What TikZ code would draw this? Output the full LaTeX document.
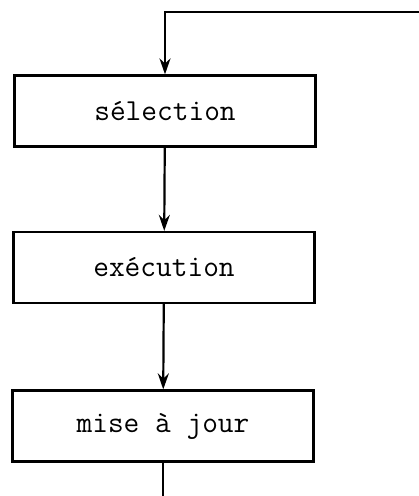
\documentclass[tikz,border=0pt]{standalone}
\usetikzlibrary{arrows.meta}
\begin{document}
\begin{tikzpicture}[x=1pt,y=-1pt,
  stepbox/.style={draw,line width=2.2pt,minimum width=301pt,minimum height=71pt,inner sep=0pt,
    font=\fontsize{30.5}{32}\selectfont\ttfamily},
  flow/.style={line width=2.2pt,-{Stealth[length=16pt,width=11pt]}}]
\useasboundingbox (0,0) rectangle (419,496);
\node[stepbox] (sel) at (165,111) {s\'election\hspace{12pt}};
\node[stepbox] (exe) at (164,267.5) {ex\'ecution\hspace{12pt}};
\node[stepbox] (maj) at (163,426) {mise \`a jour\hspace{16pt}};
\coordinate (back) at (419,12);
\coordinate (out) at (163,496);
\draw[flow] (back) -| (sel.north);
\draw[flow] (sel) -- (exe);
\draw[flow] (exe) -- (maj);
\draw[line width=2.2pt] (maj.south) -- (out);
\end{tikzpicture}
\end{document}
